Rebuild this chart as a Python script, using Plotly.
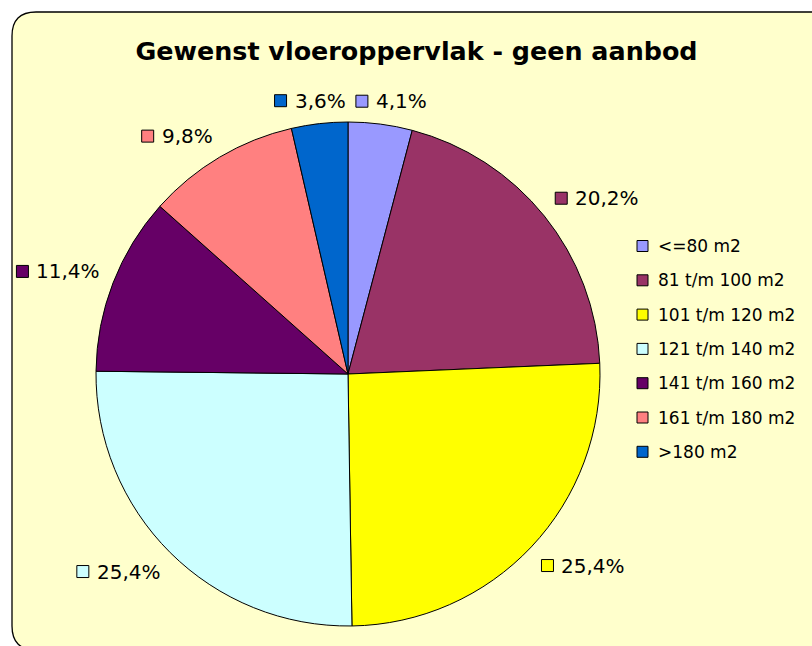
import math
import plotly.graph_objects as go

# ---- data ----
categories = ["<=80 m2", "81 t/m 100 m2", "101 t/m 120 m2", "121 t/m 140 m2",
              "141 t/m 160 m2", "161 t/m 180 m2", ">180 m2"]
percentages = [4.1, 20.2, 25.4, 25.4, 11.4, 9.8, 3.6]
colors = ["#9999FF", "#993366", "#FFFF00", "#CCFFFF", "#660066", "#FF8080", "#0066CC"]
title_text = "Gewenst vloeroppervlak - geen aanbod"
label_texts = [f"{v:.1f}".replace(".", ",") + "%" for v in percentages]

# ---- layout geometry (pixels) ----
W, H = 812, 646
CX, CY, R = 348, 374, 252
FONT = "DejaVu Sans"


def fx(x):
    return x / W


def fy(y):
    return 1 - y / H


fig = go.Figure()
fig.add_trace(go.Pie(
    labels=categories,
    values=percentages,
    sort=False,
    direction="clockwise",
    rotation=0,
    textinfo="none",
    hoverinfo="label+percent",
    marker=dict(colors=colors, line=dict(color="#000000", width=1)),
    domain=dict(x=[fx(CX - R), fx(CX + R)], y=[fy(CY + R), fy(CY - R)]),
    showlegend=False,
))

shapes = []
annotations = []

# chart area background (rounded frame)
r = 24
BOT = 650
path = (f"M {fx(12)},{fy(12 + r)} Q {fx(12)},{fy(12)} {fx(12 + r)},{fy(12)} "
        f"L {fx(840)},{fy(12)} L {fx(840)},{fy(BOT)} L {fx(12 + r)},{fy(BOT)} "
        f"Q {fx(12)},{fy(BOT)} {fx(12)},{fy(BOT - r)} Z")
shapes.append(dict(type="path", xref="paper", yref="paper", path=path,
                   fillcolor="#FFFFCC", line=dict(color="#000000", width=1.3),
                   layer="below"))

# data labels with colored key squares
CW = {",": 0.318, "%": 0.950}
LBL_SIZE = 20
SQ, GAP, DR, LH = 12, 8, 14, 18
total = sum(percentages)
cum = 0.0


def clip(a):
    return max(-1.0, min(1.0, a))


for v, txt, col in zip(percentages, label_texts, colors):
    th = 2 * math.pi * (cum + v / 2) / total
    cum += v
    s, c = math.sin(th), math.cos(th)
    px_ = CX + (R + DR) * s
    py_ = CY - (R + DR) * c
    tw = sum(CW.get(ch, 0.636) for ch in txt) * LBL_SIZE
    w = SQ + GAP + tw
    gx = px_ + w / 2 * clip(2 * s)
    gy = py_ - LH / 2 * clip(2 * c)
    x0 = gx - w / 2
    shapes.append(dict(type="rect", xref="paper", yref="paper",
                       x0=fx(x0), x1=fx(x0 + SQ), y0=fy(gy + SQ / 2), y1=fy(gy - SQ / 2),
                       fillcolor=col, line=dict(color="#000000", width=1)))
    annotations.append(dict(xref="paper", yref="paper", x=fx(x0 + SQ + GAP - 2), y=fy(gy),
                            xanchor="left", yanchor="middle", showarrow=False, text=txt,
                            font=dict(family=FONT, size=LBL_SIZE, color="#000000")))

# legend
LEG_X, LEG_Y0, LEG_DY, LEG_SQ = 637, 246, 34.3, 11
for i, (cat, col) in enumerate(zip(categories, colors)):
    yc = LEG_Y0 + i * LEG_DY
    shapes.append(dict(type="rect", xref="paper", yref="paper",
                       x0=fx(LEG_X), x1=fx(LEG_X + LEG_SQ),
                       y0=fy(yc + LEG_SQ / 2), y1=fy(yc - LEG_SQ / 2),
                       fillcolor=col, line=dict(color="#000000", width=1)))
    annotations.append(dict(xref="paper", yref="paper", x=fx(LEG_X + LEG_SQ + 8), y=fy(yc),
                            xanchor="left", yanchor="middle", showarrow=False, text=cat,
                            font=dict(family=FONT, size=17, color="#000000")))

fig.update_layout(
    width=W, height=H,
    margin=dict(l=0, r=0, t=0, b=0),
    paper_bgcolor="#FFFFFF",
    plot_bgcolor="#FFFFFF",
    title=dict(text=f"<b>{title_text}</b>", x=fx(416.5), y=fy(51),
               xanchor="center", yanchor="middle",
               font=dict(family=FONT, size=25.4, color="#000000")),
    shapes=shapes,
    annotations=annotations,
    showlegend=False,
)

fig.write_html("out.html",
               config={"displayModeBar": False},
               post_script="document.body.style.margin='0';document.body.style.overflow='hidden';")
